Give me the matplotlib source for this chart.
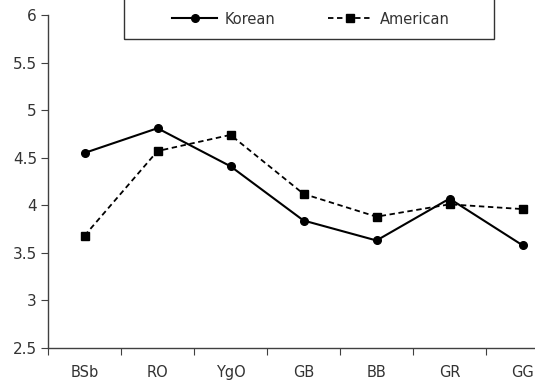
import numpy as np
import matplotlib
matplotlib.use("Agg")
import matplotlib.pyplot as plt
from matplotlib.lines import Line2D
from matplotlib.patches import Rectangle

# Data
categories = ["BSb", "RO", "YgO", "GB", "BB", "GR", "GG"]
korean = [4.55, 4.81, 4.41, 3.84, 3.63, 4.07, 3.58]
american = [3.68, 4.57, 4.74, 4.12, 3.88, 4.01, 3.96]
yticks = [2.5, 3, 3.5, 4, 4.5, 5, 5.5, 6]
ytick_labels = ["2.5", "3", "3.5", "4", "4.5", "5", "5.5", "6"]

plt.rcParams["font.family"] = ["DejaVu Sans"]
fig = plt.figure(figsize=(5.35, 3.86), dpi=100)
ax = fig.add_axes([48 / 535, 1 - 348 / 386, 511 / 535, 333 / 386])

x = np.arange(len(categories))
ax.plot(x, korean, color="black", lw=1.5, marker="o", ms=5.5, clip_on=False)
ax.plot(x, american, color="black", lw=1.3, ls=(0, (3, 2)), marker="s", ms=5.5, clip_on=False)

ax.set_xlim(-0.5, 6.5)
ax.set_ylim(2.5, 6)

# category labels on minor ticks, tick marks between categories
ax.set_xticks(np.arange(-0.5, 7, 1))
ax.set_xticklabels([])
ax.set_xticks(x, minor=True)
ax.set_xticklabels(categories, minor=True)
ax.tick_params(axis="x", which="major", length=5, direction="out", color="#404040")
ax.tick_params(axis="x", which="minor", length=0, pad=12, labelsize=10.5, labelcolor="#333333")

ax.set_yticks(yticks)
ax.set_yticklabels(ytick_labels)
ax.tick_params(axis="y", length=5, direction="out", color="#404040", labelsize=11,
               labelcolor="#333333", pad=3)

for s in ["top", "right"]:
    ax.spines[s].set_visible(False)
for s in ["left", "bottom"]:
    ax.spines[s].set_color("#404040")
    ax.spines[s].set_linewidth(1)

# legend box (top edge above figure)
fig.patches.append(Rectangle((124 / 535, 1 - 39 / 386), 370 / 535, 0.2,
                             transform=fig.transFigure, fill=False,
                             edgecolor="#333333", lw=1))
handles = [
    Line2D([], [], color="black", lw=1.5, marker="o", ms=5.5),
    Line2D([], [], color="black", lw=1.3, ls=(0, (3, 2)), marker="s", ms=5.5),
]
fig.legend(handles, ["Korean", "American"], loc="center",
           bbox_to_anchor=(311 / 535, 1 - 19 / 386), ncol=2, frameon=False,
           fontsize=10.5, handlelength=3.1, handletextpad=0.5, columnspacing=3.6,
           labelcolor="#333333")

fig.savefig("out.png", dpi=100)
